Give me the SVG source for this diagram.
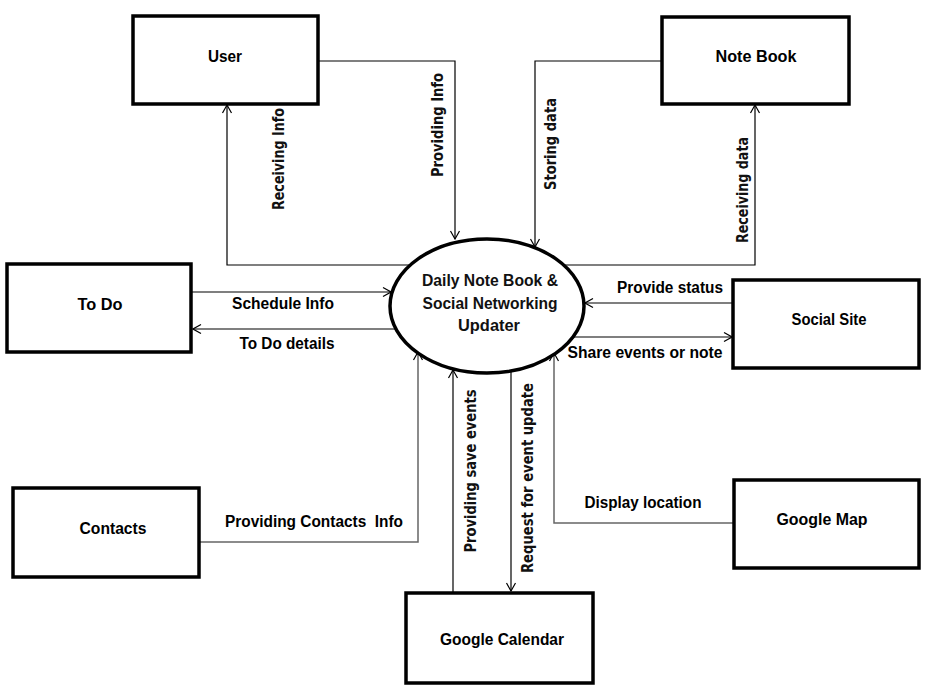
<svg xmlns="http://www.w3.org/2000/svg" width="930" height="693" viewBox="0 0 930 693">
<style>
.box{fill:#fff;stroke:#000;stroke-width:3.5}
.lbl{font-family:"Liberation Sans",Arial,sans-serif;font-weight:bold;font-size:16px;fill:#000;text-anchor:middle;white-space:pre}
.el{font-family:"Liberation Sans",Arial,sans-serif;font-weight:bold;font-size:17px;fill:#111;text-anchor:middle}
.vl{font-family:"DejaVu Sans","Liberation Sans",sans-serif;font-weight:bold;font-size:15px;fill:#111;text-anchor:middle}
.c{fill:none;stroke:#000;stroke-width:1.2;marker-end:url(#arr)}
.g{fill:none;stroke:#666;stroke-width:1.5;marker-end:url(#arr)}
</style>
<defs>
<marker id="arr" viewBox="-9 -6 10 12" refX="0" refY="0" markerWidth="10" markerHeight="12" markerUnits="userSpaceOnUse" orient="auto">
<path d="M-8,-4.5 L0,0 L-8,4.5" fill="none" stroke="#000" stroke-width="1.2"/>
</marker>
</defs>
<rect width="930" height="693" fill="#fff"/>
<g id="connectors">
<polyline class="c" points="318,61 455,61 455,239"/>
<polyline class="c" points="410,265 227,265 227,105"/>
<polyline class="c" points="662,61 535,61 535,247"/>
<polyline class="c" points="564,265 755,265 755,105"/>
<polyline class="c" points="191,292 391,292"/>
<polyline class="c" points="396,329 193,329"/>
<polyline class="c" points="733,303 585,303"/>
<polyline class="c" points="573,337 732,337"/>
<polyline class="g" points="200,542 418,542 418,352"/>
<polyline class="c" points="453,593 453,370"/>
<polyline class="c" points="511,372 511,591"/>
<polyline class="g" points="734,523 554,523 554,353"/>
<text class="vl" transform="translate(278,159) rotate(-90)" y="5.5" textLength="102" lengthAdjust="spacingAndGlyphs">Receiving Info</text>
<text class="vl" transform="translate(437,125) rotate(-90)" y="5.5" textLength="104" lengthAdjust="spacingAndGlyphs">Providing Info</text>
<text class="vl" transform="translate(550,144) rotate(-90)" y="5.5" textLength="92" lengthAdjust="spacingAndGlyphs">Storing data</text>
<text class="vl" transform="translate(742,190) rotate(-90)" y="5.5" textLength="106" lengthAdjust="spacingAndGlyphs">Receiving data</text>
<text class="vl" transform="translate(470,471) rotate(-90)" y="5.5" textLength="163" lengthAdjust="spacingAndGlyphs">Providing save events</text>
<text class="vl" transform="translate(527,478) rotate(-90)" y="5.5" textLength="190" lengthAdjust="spacingAndGlyphs">Request for event update</text>
<text class="lbl" x="283" y="309" textLength="102" lengthAdjust="spacingAndGlyphs">Schedule Info</text>
<text class="lbl" x="287" y="349" textLength="95" lengthAdjust="spacingAndGlyphs">To Do details</text>
<text class="lbl" x="670" y="293" textLength="106" lengthAdjust="spacingAndGlyphs">Provide status</text>
<text class="lbl" x="645" y="358" textLength="155" lengthAdjust="spacingAndGlyphs">Share events or note</text>
<text class="lbl" x="314" y="527" textLength="178" lengthAdjust="spacingAndGlyphs" xml:space="preserve">Providing Contacts  Info</text>
<text class="lbl" x="643" y="508" textLength="117" lengthAdjust="spacingAndGlyphs">Display location</text>
</g>
<g id="process">
<ellipse cx="487" cy="306" rx="97" ry="67" fill="#fff" stroke="#000" stroke-width="3.5"/>
<text class="el" x="490" y="286" textLength="136" lengthAdjust="spacingAndGlyphs">Daily Note Book &amp;</text>
<text class="el" x="490" y="309" textLength="135" lengthAdjust="spacingAndGlyphs">Social Networking</text>
<text class="el" x="489" y="331" textLength="62" lengthAdjust="spacingAndGlyphs">Updater</text>
</g>
<g id="user">
<rect class="box" x="133" y="16" width="185" height="88"/>
<text class="lbl" x="225" y="62" textLength="34" lengthAdjust="spacingAndGlyphs">User</text>
</g>
<g id="notebook">
<rect class="box" x="662" y="17" width="187" height="87"/>
<text class="lbl" x="756" y="62" textLength="81" lengthAdjust="spacingAndGlyphs">Note Book</text>
</g>
<g id="todo">
<rect class="box" x="7" y="264" width="184" height="88"/>
<text class="lbl" x="100" y="310" textLength="45" lengthAdjust="spacingAndGlyphs">To Do</text>
</g>
<g id="socialsite">
<rect class="box" x="733" y="280" width="186" height="88"/>
<text class="lbl" x="829" y="325" textLength="75" lengthAdjust="spacingAndGlyphs">Social Site</text>
</g>
<g id="contacts">
<rect class="box" x="13" y="488" width="186" height="89"/>
<text class="lbl" x="113" y="534" textLength="67" lengthAdjust="spacingAndGlyphs">Contacts</text>
</g>
<g id="googlemap">
<rect class="box" x="734" y="480" width="185" height="88"/>
<text class="lbl" x="822" y="525" textLength="91" lengthAdjust="spacingAndGlyphs">Google Map</text>
</g>
<g id="googlecalendar">
<rect class="box" x="406" y="593" width="187" height="90"/>
<text class="lbl" x="502" y="645" textLength="124" lengthAdjust="spacingAndGlyphs">Google Calendar</text>
</g>
</svg>
